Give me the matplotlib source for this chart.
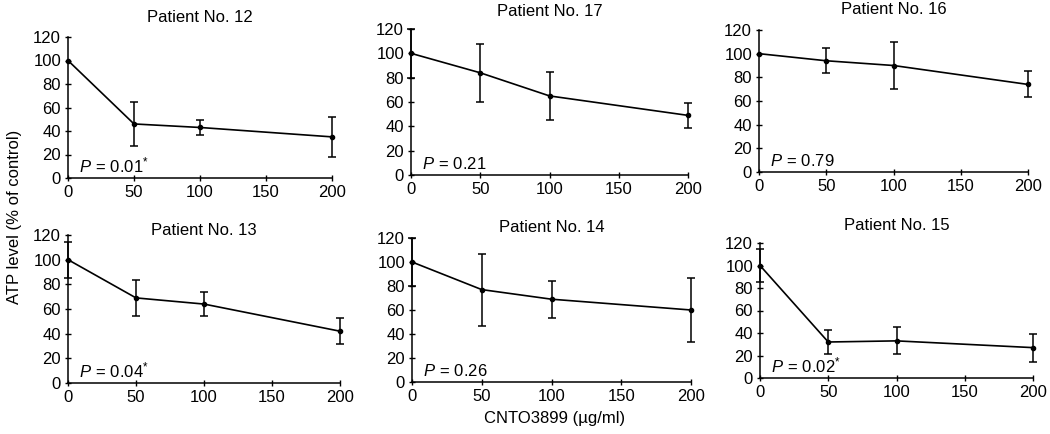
import matplotlib
matplotlib.use("Agg")
import matplotlib.pyplot as plt

plt.rcParams["font.family"] = ["Liberation Sans", "DejaVu Sans"]
plt.rcParams["mathtext.fontset"] = "custom"
plt.rcParams["mathtext.it"] = "Liberation Sans:italic"
plt.rcParams["mathtext.rm"] = "Liberation Sans"
FS = 12

dose = [0, 50, 100, 200]

# order: top row then bottom row
patients = ["Patient No. 12", "Patient No. 17", "Patient No. 16",
            "Patient No. 13", "Patient No. 14", "Patient No. 15"]
means = [
    [100, 46, 43, 35],
    [100, 84, 65, 49],
    [100, 94, 90, 74],
    [100, 69, 64, 42],
    [100, 77, 69, 60],
    [100, 32, 33, 27],
]
nan = float("nan")
errs = [
    [nan, 19, 6, 17],
    [20, 24, 20, 10],
    [nan, 10.5, 19.5, 11],
    [14.5, 14.5, 9.5, 10.5],
    [20, 30, 15.5, 27],
    [15, 11, 12, 12.5],
]
p_vals = ["0.01", "0.21", "0.79", "0.04", "0.26", "0.02"]
signif = [True, False, False, True, False, True]

W, H = 1050, 434
fig = plt.figure(figsize=(W / 100, H / 100), dpi=100)

# axes boxes in pixels: (left, top, right, bottom)
boxes = [
    (68, 37, 332, 178), (411, 29, 688, 175), (759, 30, 1028, 172),
    (68, 235, 340, 383), (412, 238, 691, 382), (760, 243, 1033, 378),
]
# vertical centre of each panel title, pixels from top
title_y = [18, 12, 10, 230, 228, 225]

for i, (name, m, e) in enumerate(zip(patients, means, errs)):
    l, t, r, b = boxes[i]
    ax = fig.add_axes([l / W, 1 - b / H, (r - l) / W, (b - t) / H])
    ax.errorbar(dose, m, yerr=e, color="black", lw=1.2, elinewidth=1.1,
                capsize=3, capthick=1.1, marker="o", ms=3, clip_on=False)
    ax.set_xlim(0, 200)
    ax.set_ylim(0, 120)
    ax.set_xticks([0, 50, 100, 150, 200])
    ax.set_yticks(range(0, 121, 20))
    for s in ("top", "right"):
        ax.spines[s].set_visible(False)
    ax.spines["left"].set_linewidth(1.1)
    ax.spines["bottom"].set_linewidth(1.1)
    ax.tick_params(direction="inout", length=4, width=1, labelsize=FS, pad=3)
    fig.text((l + r) / 2 / W, 1 - title_y[i] / H, name, ha="center",
             va="center", fontsize=FS)
    star = r"$^{*}$" if signif[i] else ""
    ax.text(0.04, 0.02, r"$P\,=\,$" + p_vals[i] + star, transform=ax.transAxes,
            ha="left", va="bottom", fontsize=FS)

fig.text(15 / W, 1 - 217 / H, "ATP level (% of control)", rotation=90,
         ha="center", va="center", fontsize=FS)
fig.text(555 / W, 1 - 418 / H, "CNTO3899 (µg/ml)", ha="center", va="center",
         fontsize=FS)

fig.savefig("out.png", dpi=100)
